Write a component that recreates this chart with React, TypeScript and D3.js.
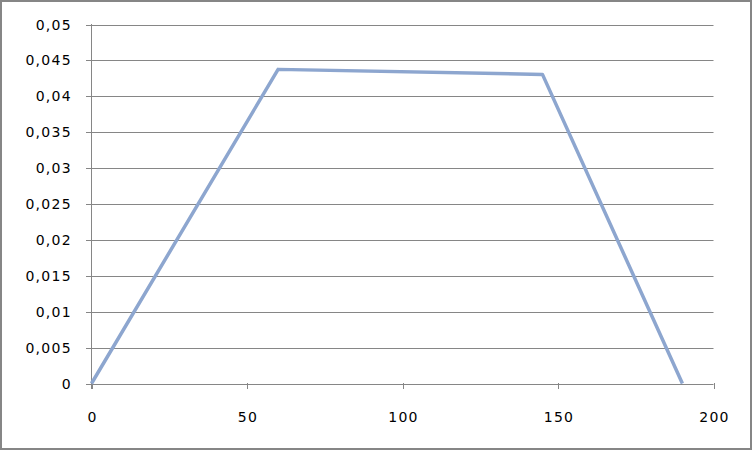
import React from "react";
import * as d3 from "d3";

const xValues = [0, 60, 145, 190];
const yValues = [0, 0.04375, 0.04305, 0];
const xTicks = [0, 50, 100, 150, 200];
const yTicks = [0, 0.005, 0.01, 0.015, 0.02, 0.025, 0.03, 0.035, 0.04, 0.045, 0.05];

const W = 753;
const H = 451;

export default function App() {
  const x = d3.scaleLinear().domain([0, 200]).range([91.5, 713.5]);
  const y = d3.scaleLinear().domain([0, 0.05]).range([383.5, 24.5]);
  const pts = xValues.map((v, i) => [x(v), y(yValues[i])] as [number, number]);
  const line = d3.line();
  const fmt = (v: number) => String(+v.toFixed(3)).replace(".", ",");
  const font = "'DejaVu Sans', sans-serif";
  return (
    <svg width={W} height={H} style={{ position: "absolute", left: 0, top: 0 }}>
      <rect x={1} y={1} width={W - 3} height={H - 3} fill="#fff" stroke="#868686" strokeWidth={2} />
      {yTicks.map((t) => (
        <g key={t}>
          <line x1={86} x2={713.5} y1={Math.round(y(t)) + 0.5} y2={Math.round(y(t)) + 0.5} stroke="#868686" strokeWidth={1} />
          <text x={72} y={y(t) + 5} textAnchor="end" fontFamily={font} fontSize={14} letterSpacing={1.3} fill="#000">
            {fmt(t)}
          </text>
        </g>
      ))}
      <line x1={91.5} x2={91.5} y1={24} y2={389} stroke="#868686" strokeWidth={1} />
      {xTicks.map((t) => (
        <g key={t}>
          <line x1={Math.round(x(t)) + 0.5} x2={Math.round(x(t)) + 0.5} y1={383} y2={389} stroke="#868686" strokeWidth={1} />
          <text x={x(t) + 1} y={422} textAnchor="middle" fontFamily={font} fontSize={14} letterSpacing={1.3} fill="#000">
            {t}
          </text>
        </g>
      ))}
      <path d={line(pts) || ""} fill="none" stroke="#8DA6CF" strokeWidth={3.5} strokeLinejoin="round" strokeLinecap="butt" />
    </svg>
  );
}
